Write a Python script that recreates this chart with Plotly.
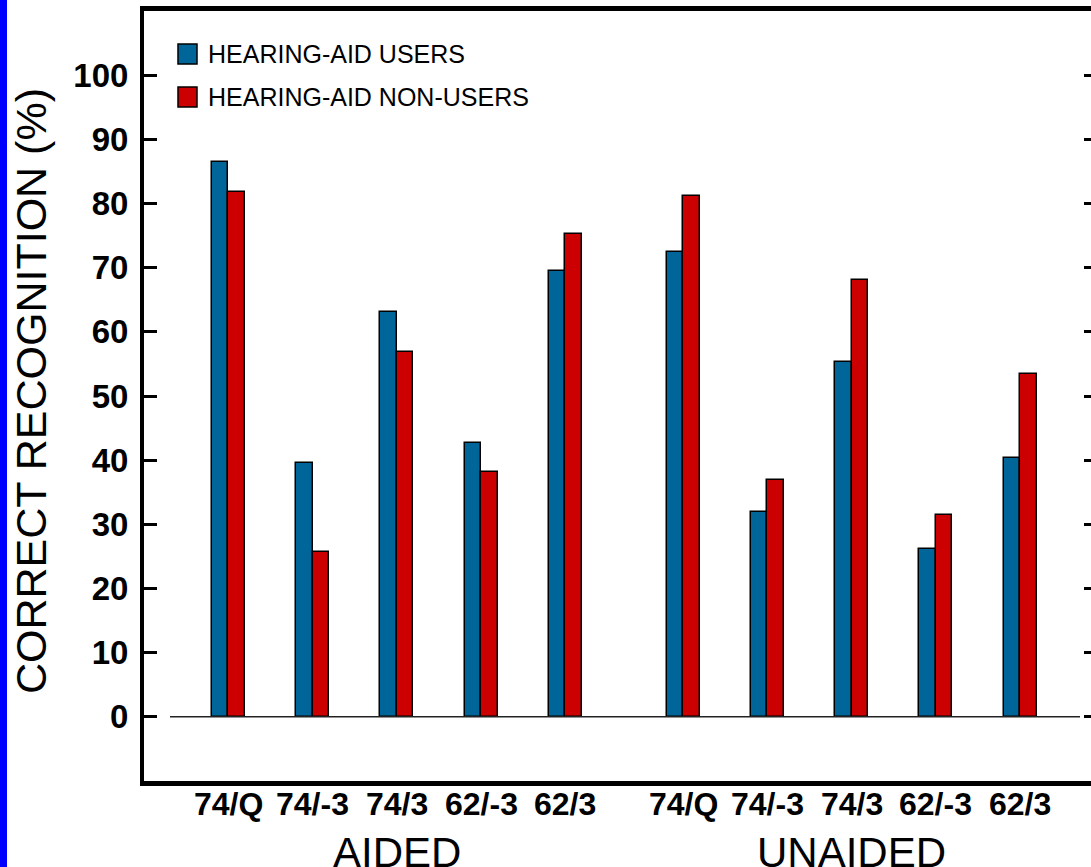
import plotly.graph_objects as go

# Speech recognition scores by listening condition and stimulus
conditions = ["AIDED", "UNAIDED"]
stimuli = ["74/Q", "74/-3", "74/3", "62/-3", "62/3"]
series_names = ["HEARING-AID USERS", "HEARING-AID NON-USERS"]

users_aided = [86.5, 39.5, 63.1, 42.7, 69.5]
users_unaided = [72.5, 32.0, 55.3, 26.1, 40.3]
nonusers_aided = [81.8, 25.7, 56.9, 38.2, 75.2]
nonusers_unaided = [81.1, 36.9, 68.1, 31.5, 53.5]

y_ticks = [0, 10, 20, 30, 40, 50, 60, 70, 80, 90, 100]

BLUE = "#006699"
RED = "#CC0000"
FONT = "Liberation Sans, Arial, Helvetica, sans-serif"

W, H = 1091, 867
ML, MR, MT, MB = 144, 0, 11, 86
PW, PH = W - ML - MR, H - MT - MB


def pxx(x):
    return (x - ML) / PW


def pxy(y):
    return (H - MB - y) / PH


# x positions: one unit per stimulus, extra space between conditions
group_gap = 0.4
xpos = []
for ci, _ in enumerate(conditions):
    for si, _ in enumerate(stimuli):
        xpos.append(ci * (len(stimuli) + group_gap) + si)
ticktext = stimuli * len(conditions)

users = users_aided + users_unaided
nonusers = nonusers_aided + nonusers_unaided

bw = 0.196
fig = go.Figure()
fig.add_trace(go.Bar(
    x=xpos, y=users, name=series_names[0], width=bw, offset=-bw,
    marker=dict(color=BLUE, line=dict(color="black", width=1.5)),
    showlegend=False,
))
fig.add_trace(go.Bar(
    x=xpos, y=nonusers, name=series_names[1], width=bw, offset=0,
    marker=dict(color=RED, line=dict(color="black", width=1.5)),
    showlegend=False,
))
# carrier for the right-hand tick marks
fig.add_trace(go.Scatter(x=[xpos[0]], y=[0], yaxis="y2", mode="markers",
                         marker=dict(opacity=0), hoverinfo="skip", showlegend=False))

shapes = []
annotations = []

# blue strip along the left edge
shapes.append(dict(type="rect", xref="paper", yref="paper",
                   x0=pxx(0), x1=pxx(7), y0=pxy(H), y1=pxy(0),
                   fillcolor="#0000FF", line=dict(width=0), layer="above"))

# baseline at zero
shapes.append(dict(type="line", xref="paper", yref="y",
                   x0=pxx(170), x1=pxx(1080), y0=0, y1=0,
                   line=dict(color="#222222", width=1.5)))

# legend
for i, (name, col) in enumerate(zip(series_names, [BLUE, RED])):
    top = 44 + i * 43
    shapes.append(dict(type="rect", xref="paper", yref="paper",
                       x0=pxx(178), x1=pxx(197), y0=pxy(top + 20), y1=pxy(top),
                       fillcolor=col, line=dict(color="black", width=1.5)))
    annotations.append(dict(text=name, xref="paper", yref="paper",
                            x=pxx(206), y=pxy(top + 10), xanchor="left", yanchor="middle",
                            showarrow=False, font=dict(family=FONT, size=25, color="black")))

# y axis title
annotations.append(dict(text="CORRECT RECOGNITION (%)", xref="paper", yref="paper",
                        x=pxx(31), y=pxy(391), textangle=-90, showarrow=False,
                        xanchor="center", yanchor="middle",
                        font=dict(family=FONT, size=43, color="black")))

# stimulus labels under each bar pair
for xv, label in zip(xpos, ticktext):
    annotations.append(dict(text=label, xref="x", yref="paper",
                            x=xv, y=pxy(804), xanchor="center", yanchor="middle",
                            showarrow=False,
                            font=dict(family=FONT, size=32, color="black", weight="bold")))

# condition labels below the stimulus labels
n = len(stimuli)
for ci, cond in enumerate(conditions):
    centre = sum(xpos[ci * n:(ci + 1) * n]) / n
    annotations.append(dict(text=cond, xref="x", yref="paper",
                            x=centre, y=pxy(852), xanchor="center", yanchor="middle",
                            showarrow=False, font=dict(family=FONT, size=42, color="black")))

fig.update_layout(
    width=W, height=H,
    margin=dict(l=ML, r=MR, t=MT, b=MB, pad=0),
    paper_bgcolor="white", plot_bgcolor="white",
    bargap=0, barmode="group",
    shapes=shapes, annotations=annotations,
    xaxis=dict(
        range=[-1.0, 10.24], tickvals=xpos, showticklabels=False,
        showgrid=False, zeroline=False, showline=True, mirror=True,
        linecolor="black", linewidth=5, ticks="",
    ),
    yaxis=dict(
        range=[-10, 110], tickvals=y_ticks,
        showgrid=False, zeroline=False, showline=True, mirror=False,
        linecolor="black", linewidth=4, ticks="inside", ticklen=13, tickwidth=3,
        tickcolor="black",
        tickfont=dict(family=FONT, size=33, color="black", weight="bold"),
        ticklabelstandoff=5,
    ),
    yaxis2=dict(
        range=[-10, 110], tickvals=y_ticks, overlaying="y", side="right",
        showgrid=False, zeroline=False, showline=False,
        ticks="inside", ticklen=7, tickwidth=3, tickcolor="black",
        showticklabels=False,
    ),
)

fig.write_html("out.html")
